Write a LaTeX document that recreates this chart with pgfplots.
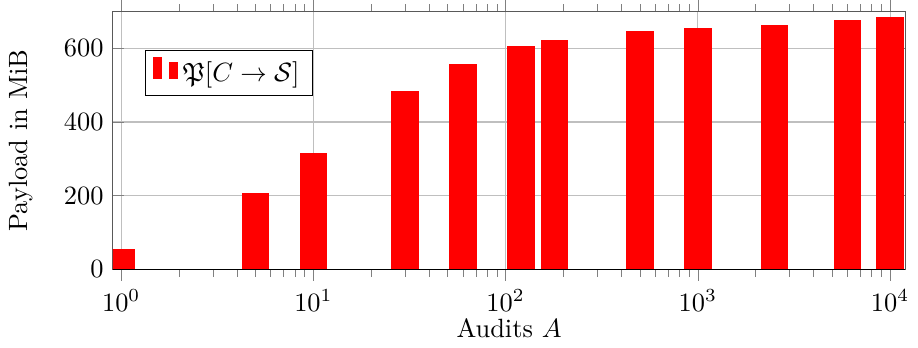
\documentclass[border=0pt]{standalone}
\usepackage{pgfplots}
\usepackage{amsfonts}
\pgfplotsset{compat=1.18}
\begin{document}
\begin{tikzpicture}
\begin{axis}[
  scale only axis,
  width=300pt, height=97.6pt,
  xmode=log,
  xmin=0.905, xmax=12000,
  ymin=0, ymax=700,
  ytick={0,200,400,600},
  xtick align=outside,
  ytick align=inside,
  grid=major,
  axis line style={black!65},
  xlabel={Audits $A$},
  ylabel={Payload in MiB},
  xlabel style={yshift=4pt},
  ylabel style={yshift=5pt},
  legend style={at={(0.04,0.85)}, anchor=north west},
]
\addplot[ybar, ybar legend, bar width=10pt, fill=red, draw=red] coordinates {
(1,55) (5,206) (10,314) (30,482) (60,557) (120,604) (180,621)
(500,646) (1000,654) (2500,662) (6000,675) (10000,683)
};
\addlegendentry{{$\mathfrak{P}[C \to \mathcal{S}]$}}
\draw[black] (rel axis cs:0,0) -- (rel axis cs:1,0);
\end{axis}
\end{tikzpicture}
\end{document}
